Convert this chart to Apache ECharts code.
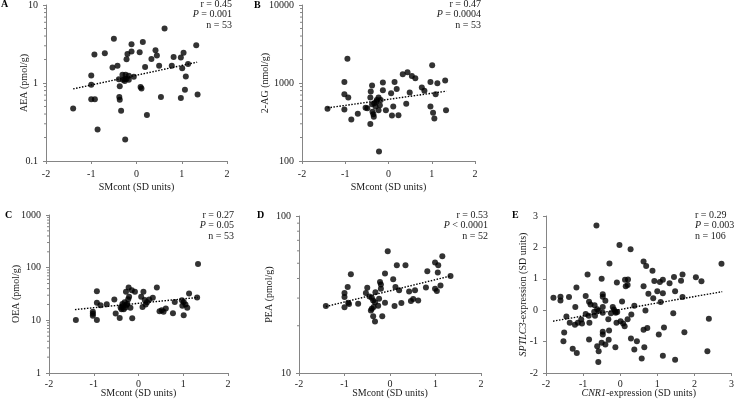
<!DOCTYPE html>
<html>
<head>
  <meta charset="UTF-8">
  <title>Endocannabinoids vs SMcont</title>
  <script src="https://cdn.jsdelivr.net/npm/echarts@6/dist/echarts.min.js"></script>
  <style>
    html, body { margin: 0; padding: 0; background: #fff; }
    #chart { width: 737px; height: 403px; }
  </style>
</head>
<body>
  <div id="chart"></div>
  <script>
    // --- data ---
    // A: AEA (pmol/g)
    const pointsA = [
      [-1.40, 0.47], [-0.93, 2.32], [-0.70, 2.40], [-0.50, 3.70], [0.14, 3.36], [-0.11, 3.14],
      [0.62, 4.98], [1.32, 3.05], [-0.20, 2.36], [-0.11, 2.53], [0.07, 2.48], [0.42, 2.63],
      [0.45, 2.25], [1.04, 2.45], [0.98, 2.12], [0.82, 2.15], [-0.22, 2.02], [0.33, 2.03],
      [-0.53, 1.58], [-0.42, 1.66], [0.19, 1.60], [0.50, 1.67], [0.78, 1.67], [1.01, 1.55],
      [1.14, 1.75], [-1.00, 1.25], [-0.31, 1.28], [-0.24, 1.28], [-0.17, 1.24], [-0.39, 1.12],
      [-0.30, 1.10], [-0.26, 1.12], [-0.22, 1.13], [-0.26, 1.06], [-0.06, 1.20], [-0.17, 1.10],
      [1.09, 1.21], [-1.00, 0.95], [-0.37, 0.91], [0.09, 0.89], [0.11, 0.85], [1.07, 0.82],
      [-1.00, 0.62], [-0.92, 0.62], [-0.38, 0.66], [-0.37, 0.61], [0.54, 0.66], [0.98, 0.64],
      [1.35, 0.71], [-0.34, 0.44], [0.23, 0.39], [-0.86, 0.254], [-0.25, 0.189]
    ];
    const trendA = [[-1.40, 0.84], [1.34, 1.85]];
    const statsA = ['r = 0.45', '{i|P} = 0.001', 'n = 53'];

    // B: 2-AG (nmol/g)
    const pointsB = [
      [-1.41, 466], [-0.95, 2040], [-1.02, 1033], [-1.02, 718], [-0.93, 650], [-1.02, 456],
      [-0.86, 340], [-0.71, 402], [-0.53, 480], [-0.49, 475], [-0.38, 927], [-0.41, 776],
      [-0.42, 650], [-0.23, 650], [-0.18, 607], [-0.27, 607], [-0.33, 551], [-0.38, 535],
      [-0.30, 499], [-0.23, 448], [-0.37, 427], [-0.35, 398], [-0.34, 368], [-0.42, 299],
      [-0.06, 448], [-0.13, 1015], [-0.13, 809], [0.06, 741], [0.14, 1033], [0.19, 840],
      [0.08, 383], [0.23, 385], [0.11, 499], [0.41, 540], [0.49, 753], [0.33, 1295],
      [0.44, 1375], [0.54, 1234], [0.62, 1152], [0.77, 875], [0.83, 793], [1.01, 1687],
      [0.97, 1033], [1.13, 993], [1.31, 1074], [1.09, 718], [0.97, 499], [1.03, 414],
      [1.06, 351], [1.33, 446], [-0.22, 132], [-0.28, 580], [-0.20, 520]
    ];
    const trendB = [[-1.41, 480], [1.34, 785]];
    const statsB = ['r = 0.47', '{i|P} = 0.0004', 'n = 53'];

    // C: OEA (pmol/g)
    const pointsC = [
      [1.33, 117], [-1.40, 10.2], [-0.93, 35.8], [-0.93, 21.5], [-0.85, 19.4], [-1.02, 14.5],
      [-1.02, 13.3], [-1.02, 12.2], [-0.93, 10.2], [-0.71, 20.3], [-0.54, 24.9], [-0.51, 13.5],
      [-0.42, 11.1], [-0.40, 17.5], [-0.36, 20.5], [-0.31, 22], [-0.27, 19.5], [-0.38, 16.2],
      [-0.33, 16.2], [-0.29, 17.5], [-0.25, 20.5], [-0.36, 18.5], [-0.22, 42], [-0.28, 34.8],
      [-0.15, 37.4], [-0.08, 34.8], [-0.21, 27.9], [-0.23, 25.2], [-0.18, 17.3], [-0.14, 11.0],
      [0.09, 18.0], [0.11, 35], [0.06, 28], [0.14, 24.2], [0.19, 22], [0.24, 25],
      [0.32, 26.7], [0.41, 42], [0.16, 20], [0.47, 14.9], [0.52, 15.6], [0.56, 14.5],
      [0.61, 16.8], [0.77, 13.7], [0.81, 22.4], [0.97, 24], [1.01, 22.4], [1.05, 20],
      [0.98, 19], [1.01, 12.5], [1.09, 17.3], [1.13, 32.3], [1.31, 27.1]
    ];
    const trendC = [[-1.42, 16.0], [1.33, 27.2]];
    const statsC = ['r = 0.27', '{i|P} = 0.05', 'n = 53'];

    // D: PEA (pmol/g)
    const pointsD = [
      [-1.41, 26.7], [-0.05, 59.6], [0.15, 48.5], [0.34, 48.5], [-0.86, 42.5], [-0.93, 35.3],
      [-1.00, 32.3], [-1.00, 30.5], [-0.92, 28.0], [-0.90, 27.5], [-1.00, 26.2], [-0.70, 27.6],
      [-0.50, 34.9], [-0.53, 32.3], [-0.45, 30.7], [-0.40, 30.2], [-0.37, 29], [-0.33, 28.2],
      [-0.36, 26.3], [-0.40, 25.7], [-0.42, 25], [-0.26, 26.8], [-0.32, 32.7], [-0.24, 29.7],
      [-0.22, 38], [-0.20, 36.6], [-0.20, 34.4], [-0.11, 43], [-0.11, 28], [0.07, 39.5],
      [0.12, 35.3], [0.20, 33.7], [-0.37, 23], [-0.33, 21.3], [-0.17, 23], [0.10, 26.7],
      [0.25, 27.9], [0.42, 33], [0.55, 33.7], [0.46, 28.8], [0.51, 29.6], [0.62, 29],
      [0.79, 35], [0.82, 44.5], [0.99, 50.5], [1.06, 48.5], [1.15, 55.4], [1.05, 43.7],
      [1.11, 36.1], [0.99, 34.4], [1.03, 33.3], [1.33, 41.5]
    ];
    const trendD = [[-1.41, 26.5], [1.33, 41.5]];
    const statsD = ['r = 0.53', '{i|P} < 0.0001', 'n = 52'];

    // E: SPTLC3 vs CNR1 expression (SD units)
    const pointsE = [
      [-0.64, 2.70], [-0.02, 2.08], [0.28, 1.94], [-0.29, 1.49], [-0.88, 1.14], [-0.50, 1.00],
      [0.13, 0.97], [0.21, 0.98], [0.20, 0.80], [0.15, 0.76], [-0.09, 0.88], [-1.18, 0.72],
      [-1.80, 0.40], [-1.61, 0.43], [-1.61, 0.31], [-1.38, 0.42], [-0.93, 0.45], [-0.47, 0.51],
      [-0.47, 0.43], [-1.21, 0.10], [-0.84, 0.27], [-0.80, 0.18], [-0.69, 0.16], [-0.62, 0.03],
      [-0.47, 0.10], [-0.47, -0.08], [-0.58, -0.02], [-0.20, 0.10], [-0.17, 0.02], [-0.12, -0.08],
      [-0.13, -0.04], [-0.08, -0.06], [0.05, 0.28], [0.38, 0.14], [-0.85, -0.18], [-0.83, -0.40],
      [-0.68, -0.18], [-1.45, -0.20], [-1.36, -0.40], [-1.22, -0.46], [-1.14, -0.40], [-1.03, -0.42],
      [-0.32, -0.29], [-0.10, -0.40], [0.01, -0.35], [0.12, -0.51], [0.20, -0.29], [0.30, -0.14],
      [-1.51, -0.71], [-1.53, -0.99], [-0.84, -0.93], [-0.47, -0.69], [-0.47, -0.77], [-0.30, -0.65],
      [-0.31, -0.94], [-0.50, -1.04], [-0.40, -1.09], [-0.62, -1.15], [-0.58, -1.31], [-0.59, -1.65],
      [-1.28, -1.23], [-1.17, -1.36], [-0.13, -1.18], [0.29, -0.90], [0.45, -0.99], [0.38, -1.25],
      [2.73, 1.48], [0.63, 1.55], [0.70, 1.41], [0.87, 1.26], [0.63, 0.76], [0.76, 0.52],
      [0.89, 0.38], [0.92, 0.93], [1.07, 0.90], [1.15, 0.97], [1.00, 0.60], [1.15, 0.54],
      [1.33, 0.86], [1.45, 1.06], [1.48, 0.60], [1.64, 0.94], [1.68, 1.14], [1.68, 0.42],
      [2.04, 1.05], [2.19, 0.92], [1.09, 0.26], [0.68, -0.01], [1.43, -0.10], [2.39, -0.27],
      [0.63, -0.62], [0.73, -0.57], [1.04, -0.77], [1.18, -0.55], [1.73, -0.70], [0.65, -1.18],
      [0.58, -1.54], [1.15, -1.45], [1.48, -1.58], [2.35, -1.31], [-0.40, 0.30], [-0.25, -0.10],
      [-1.05, -0.30], [0.08, -0.42], [-0.70, -0.05], [-0.93, -0.12]
    ];
    const trendE = [[-1.81, -0.35], [2.75, 0.59]];
    const statsE = ['r = 0.29', '{i|P} = 0.003', 'n = 106'];

    const xTicksSM = [-2, 2, 1];     // min, max, interval
    const xTicksCNR = [-2, 3, 1];
    const yTicksE = [-2, 3, 1];

    // --- styling ---
    const FONT = 'Liberation Serif';
    const AXIS_COLOR = '#858585';
    const TEXT_COLOR = '#1a1a1a';
    const italic = { i: { fontStyle: 'italic', fontFamily: FONT, fontSize: 10, color: TEXT_COLOR } };

    const panels = [
      { id: 'A', grid: { left: 46, top: 5, width: 181, height: 156 }, points: pointsA, trend: trendA,
        yLog: [0.1, 10], yName: 'AEA (pmol/g)', yGap: 17, xName: 'SMcont (SD units)', xGap: 21, xMargin: 8,
        xr: xTicksSM, letter: [1, 4], stats: statsA, statsPos: [232, 4, 'right'] },
      { id: 'B', grid: { left: 302, top: 5, width: 173, height: 156 }, points: pointsB, trend: trendB,
        yLog: [100, 10000], yName: '2-AG (nmol/g)', yGap: 32, xName: 'SMcont (SD units)', xGap: 21, xMargin: 8,
        xr: xTicksSM, letter: [254, 5], stats: statsB, statsPos: [481, 4, 'right'] },
      { id: 'C', grid: { left: 49, top: 215, width: 179, height: 158 }, points: pointsC, trend: trendC,
        yLog: [1, 1000], yName: 'OEA (pmol/g)', yGap: 28, xName: 'SMcont (SD units)', xGap: 15, xMargin: 6,
        xr: xTicksSM, letter: [5, 215], stats: statsC, statsPos: [234, 215, 'right'] },
      { id: 'D', grid: { left: 299, top: 216, width: 182, height: 157 }, points: pointsD, trend: trendD,
        yLog: [10, 100], yName: 'PEA (pmol/g)', yGap: 25, xName: 'SMcont (SD units)', xGap: 15, xMargin: 6,
        xr: xTicksSM, letter: [257, 215], stats: statsD, statsPos: [488, 215, 'right'] },
      { id: 'E', grid: { left: 546, top: 216, width: 189, height: 157 }, points: pointsE, trend: trendE,
        yLin: yTicksE, yName: '{i|SPTLC3}-expression (SD units)', yGap: 18,
        xName: '{i|CNR1}-expression (SD units)', xGap: 15, xMargin: 6,
        xr: xTicksCNR, letter: [512, 215], stats: statsE, statsPos: [695, 215, 'left'] }
    ];

    const labelStyle = { fontFamily: FONT, fontSize: 10, color: TEXT_COLOR };
    const fmt = v => String(+Number(v).toPrecision(4));

    // minor tick values for a log range (2..9 in each decade)
    function minorValues(lo, hi) {
      const out = [];
      for (let d = lo; d < hi; d *= 10) {
        for (let k = 2; k <= 9; k++) out.push(+(k * d).toPrecision(3));
      }
      return out;
    }

    const grid = [], xAxis = [], yAxis = [], series = [], graphic = [];

    panels.forEach((p, i) => {
      grid.push(Object.assign({ containLabel: false }, p.grid));

      xAxis.push({
        gridIndex: i, type: 'value', min: p.xr[0], max: p.xr[1], interval: p.xr[2],
        name: p.xName, nameLocation: 'middle', nameGap: p.xGap, nameMoveOverlap: false,
        nameTextStyle: Object.assign({ rich: italic }, labelStyle),
        axisLine: { onZero: false, lineStyle: { color: AXIS_COLOR, width: 1 } },
        axisTick: { inside: false, length: 3, lineStyle: { color: AXIS_COLOR } },
        axisLabel: Object.assign({ margin: p.xMargin, formatter: fmt }, labelStyle),
        splitLine: { show: false }
      });

      const y = {
        gridIndex: i,
        name: p.yName, nameLocation: 'middle', nameGap: p.yGap, nameMoveOverlap: false,
        nameTextStyle: Object.assign({ rich: italic }, labelStyle),
        axisLine: { show: true, onZero: false, lineStyle: { color: AXIS_COLOR, width: 1 } },
        axisTick: { show: true, inside: false, length: 3, lineStyle: { color: AXIS_COLOR } },
        axisLabel: Object.assign({ margin: 8, formatter: fmt }, labelStyle),
        splitLine: { show: false }
      };
      if (p.yLog) {
        Object.assign(y, { type: 'log', logBase: 10, min: p.yLog[0], max: p.yLog[1] });
      } else {
        Object.assign(y, { type: 'value', min: p.yLin[0], max: p.yLin[1], interval: p.yLin[2] });
      }
      yAxis.push(y);

      series.push({
        type: 'scatter', xAxisIndex: i, yAxisIndex: i, data: p.points,
        symbol: 'circle', symbolSize: 6, itemStyle: { color: '#000' }, silent: true
      });
      series.push({
        type: 'line', xAxisIndex: i, yAxisIndex: i, data: p.trend, symbol: 'none',
        lineStyle: { color: '#000', width: 1.4, type: [1.5, 1.5] }, silent: true, z: 3
      });

      if (p.yLog) {
        const xMin = p.xr[0];
        series.push({
          type: 'custom', xAxisIndex: i, yAxisIndex: i, silent: true, clip: false,
          data: minorValues(p.yLog[0], p.yLog[1]).map(v => [xMin, v]),
          encode: { x: 0, y: 1 },
          renderItem: (params, api) => {
            const pt = api.coord([api.value(0), api.value(1)]);
            return {
              type: 'line',
              shape: { x1: pt[0] - 2, y1: pt[1], x2: pt[0], y2: pt[1] },
              style: { stroke: AXIS_COLOR, lineWidth: 1 }
            };
          }
        });
      }

      graphic.push({
        type: 'text', x: p.letter[0], y: p.letter[1],
        style: { text: p.id, fontFamily: FONT, fontSize: 10, fontWeight: 'bold', fill: '#000',
                 align: 'left', verticalAlign: 'middle' }
      });
      p.stats.forEach((s, k) => {
        graphic.push({
          type: 'text', x: p.statsPos[0], y: p.statsPos[1] + k * 10.8,
          style: { text: s, fontFamily: FONT, fontSize: 10, fill: TEXT_COLOR,
                   align: p.statsPos[2], verticalAlign: 'middle', rich: italic }
        });
      });
    });

    const chart = echarts.init(document.getElementById('chart'), null, { renderer: 'canvas' });
    chart.setOption({
      animation: false,
      backgroundColor: '#fff',
      textStyle: { fontFamily: FONT },
      grid, xAxis, yAxis, series, graphic
    });

    window.onresize = () => chart.resize();
  </script>
</body>
</html>
